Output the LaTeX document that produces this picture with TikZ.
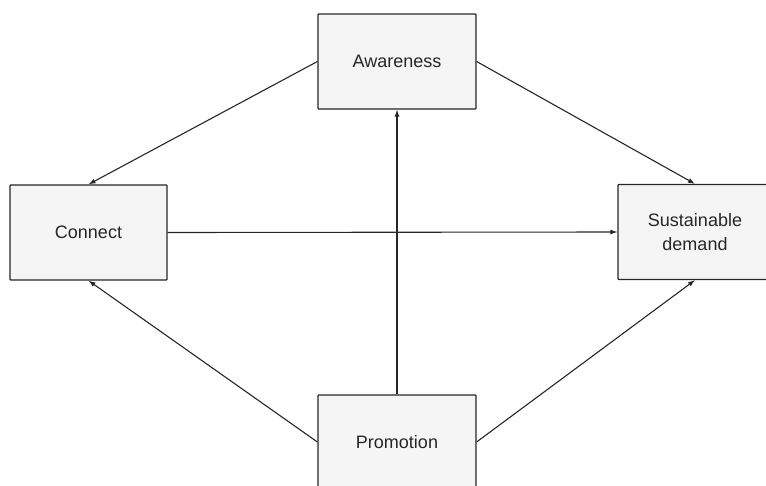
\documentclass[tikz,border=0pt]{standalone}
\usepackage{fontspec}
\setmainfont{Liberation Sans}
\usetikzlibrary{arrows.meta}
\definecolor{boxfill}{HTML}{F5F5F5}
\definecolor{linecol}{HTML}{262626}
\begin{document}
\begin{tikzpicture}[x=1pt,y=-1pt,
  box/.style={draw=linecol,fill=boxfill,line width=1.2pt,rounded corners=0.8pt,
    inner sep=0pt,font=\fontsize{18}{24}\selectfont,text=linecol,align=center},
  conn/.style={draw=linecol,line width=1.1pt,-{Latex[length=7pt,width=5pt]}}]
\useasboundingbox (0,0) rectangle (766,485);
\clip (0,0) rectangle (766,485);
\node[box,minimum width=158pt,minimum height=95pt] (aw) at (397,61.5) {Awareness};
\node[box,minimum width=157pt,minimum height=95pt] (co) at (88.5,232.5) {Connect};
\node[box,minimum width=154pt,minimum height=95pt] (sd) at (695,232) {Sustainable\\demand};
\node[box,minimum width=158pt,minimum height=94pt] (pr) at (397,442) {Promotion};
\draw[conn] (aw.west) -- (co.north);
\draw[conn] (aw.east) -- (sd.north);
\draw[conn] (co.east) -- (sd.west);
\draw[conn] (pr.north) -- (aw.south);
\draw[conn] (pr.west) -- (co.south);
\draw[conn] (pr.east) -- (sd.south);
\end{tikzpicture}
\end{document}
